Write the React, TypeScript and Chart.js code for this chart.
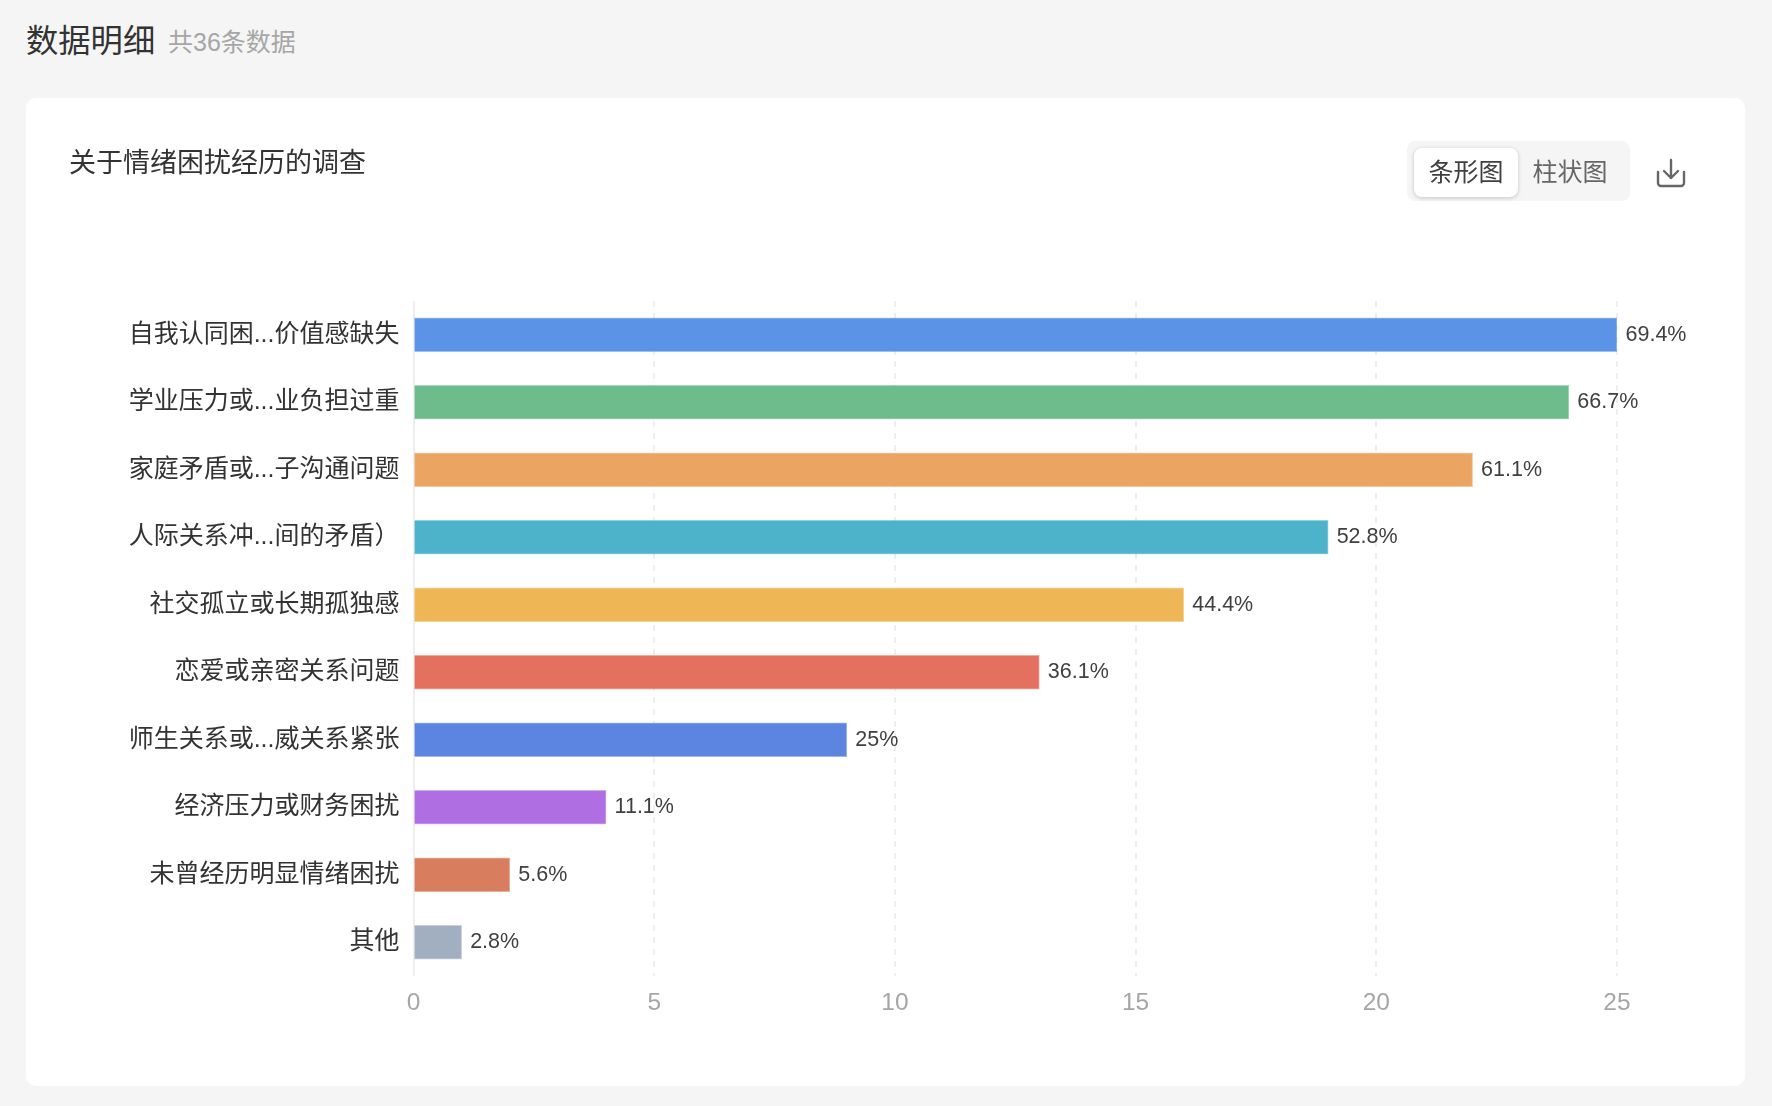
import React, { useEffect, useRef } from "react";
import { Chart, registerables } from "chart.js";

Chart.register(...registerables);

const categories = [
  "自我认同困...价值感缺失",
  "学业压力或...业负担过重",
  "家庭矛盾或...子沟通问题",
  "人际关系冲...间的矛盾）",
  "社交孤立或长期孤独感",
  "恋爱或亲密关系问题",
  "师生关系或...威关系紧张",
  "经济压力或财务困扰",
  "未曾经历明显情绪困扰",
  "其他",
];
const counts = [25, 24, 22, 19, 16, 13, 9, 4, 2, 1];
const percents = ["69.4%", "66.7%", "61.1%", "52.8%", "44.4%", "36.1%", "25%", "11.1%", "5.6%", "2.8%"];
const colors = ["#5B93E7", "#6EBB8C", "#ECA463", "#4DB3CA", "#EEB654", "#E4705F", "#5B85E0", "#AF6FE2", "#D87D5E", "#A2AFC0"];

const SANS = '"Liberation Sans", "Noto Sans CJK SC", sans-serif';

const valueLabels = {
  id: "valueLabels",
  afterDatasetsDraw(chart: any) {
    const { ctx } = chart;
    const meta = chart.getDatasetMeta(0);
    ctx.save();
    ctx.font = `21.5px ${SANS}`;
    ctx.fillStyle = "#404040";
    ctx.textAlign = "left";
    ctx.textBaseline = "middle";
    meta.data.forEach((bar: any, i: number) => {
      ctx.fillText(percents[i], bar.x + 8.5, bar.y);
    });
    ctx.restore();
  },
};

const abs = (o: React.CSSProperties): React.CSSProperties => ({ position: "absolute", whiteSpace: "nowrap", ...o });

export default function App() {
  const ref = useRef<HTMLCanvasElement>(null);

  useEffect(() => {
    const chart = new Chart(ref.current as HTMLCanvasElement, {
      type: "bar",
      data: {
        labels: categories,
        datasets: [
          {
            data: counts,
            backgroundColor: colors,
            borderColor: colors.map((c) => c + "99"),
            borderWidth: 1,
            barThickness: 34,
          },
        ],
      },
      options: {
        indexAxis: "y",
        animation: false,
        responsive: false,
        layout: { padding: { left: 0, top: 301, right: 155, bottom: 0 } },
        plugins: { legend: { display: false }, tooltip: { enabled: false }, title: { display: false } },
        scales: {
          x: {
            min: 0,
            max: 25,
            ticks: { stepSize: 5, padding: 13, color: "#A6A6A6", font: { size: 24.5, family: SANS } },
            grid: { color: "#EEEEEE", lineWidth: 2, drawTicks: false },
            border: { display: false, dash: (c: any) => (c.tick && c.tick.value === 0 ? [] : [6, 6]) },
            afterFit: (s: any) => {
              s.height = 130;
            },
          },
          y: {
            ticks: { padding: 6, color: "#333333", font: { size: 25, family: SANS } },
            grid: { display: false },
            border: { display: false },
            afterFit: (s: any) => {
              s.width = 413.5;
            },
          },
        },
      },
      plugins: [valueLabels],
    } as any);
    return () => chart.destroy();
  }, []);

  return (
    <div style={{ position: "absolute", left: 0, top: 0, width: 1772, height: 1106, background: "#F5F5F5", overflow: "hidden", fontFamily: SANS }}>
      <span style={abs({ left: 26, top: 19, fontSize: 32.3, lineHeight: "44px", color: "#333" })}>数据明细</span>
      <span style={abs({ left: 168, top: 26, fontSize: 25, lineHeight: "32px", color: "#A6A6A6" })}>共36条数据</span>
      <div style={{ position: "absolute", left: 26, top: 98, width: 1719, height: 988, background: "#fff", borderRadius: 10 }} />
      <canvas ref={ref} width={1772} height={1106} style={{ position: "absolute", left: 0, top: 0, width: 1772, height: 1106 }} />
      <span style={abs({ left: 69, top: 143, fontSize: 27, lineHeight: "40px", color: "#333" })}>关于情绪困扰经历的调查</span>
      <div style={{ position: "absolute", left: 1407, top: 141, width: 223, height: 60, background: "#F5F5F5", borderRadius: 8 }} />
      <div style={{ position: "absolute", left: 1414, top: 148, width: 104, height: 49, background: "#fff", borderRadius: 8, boxShadow: "0 1px 4px rgba(0,0,0,0.2)" }} />
      <span style={abs({ left: 1414, width: 104, textAlign: "center", top: 154, fontSize: 25, lineHeight: "36px", color: "#404040" })}>条形图</span>
      <span style={abs({ left: 1518, width: 104, textAlign: "center", top: 154, fontSize: 25, lineHeight: "36px", color: "#666" })}>柱状图</span>
      <svg style={{ position: "absolute", left: 1655, top: 157 }} width={32} height={32} viewBox="0 0 32 32" fill="none" stroke="#666" strokeWidth={2.4} strokeLinecap="round" strokeLinejoin="round">
        <path d="M3 15v11a3 3 0 0 0 3 3h20a3 3 0 0 0 3-3V15" />
        <path d="M16 3v18M9 14l7 7 7-7" />
      </svg>
    </div>
  );
}
